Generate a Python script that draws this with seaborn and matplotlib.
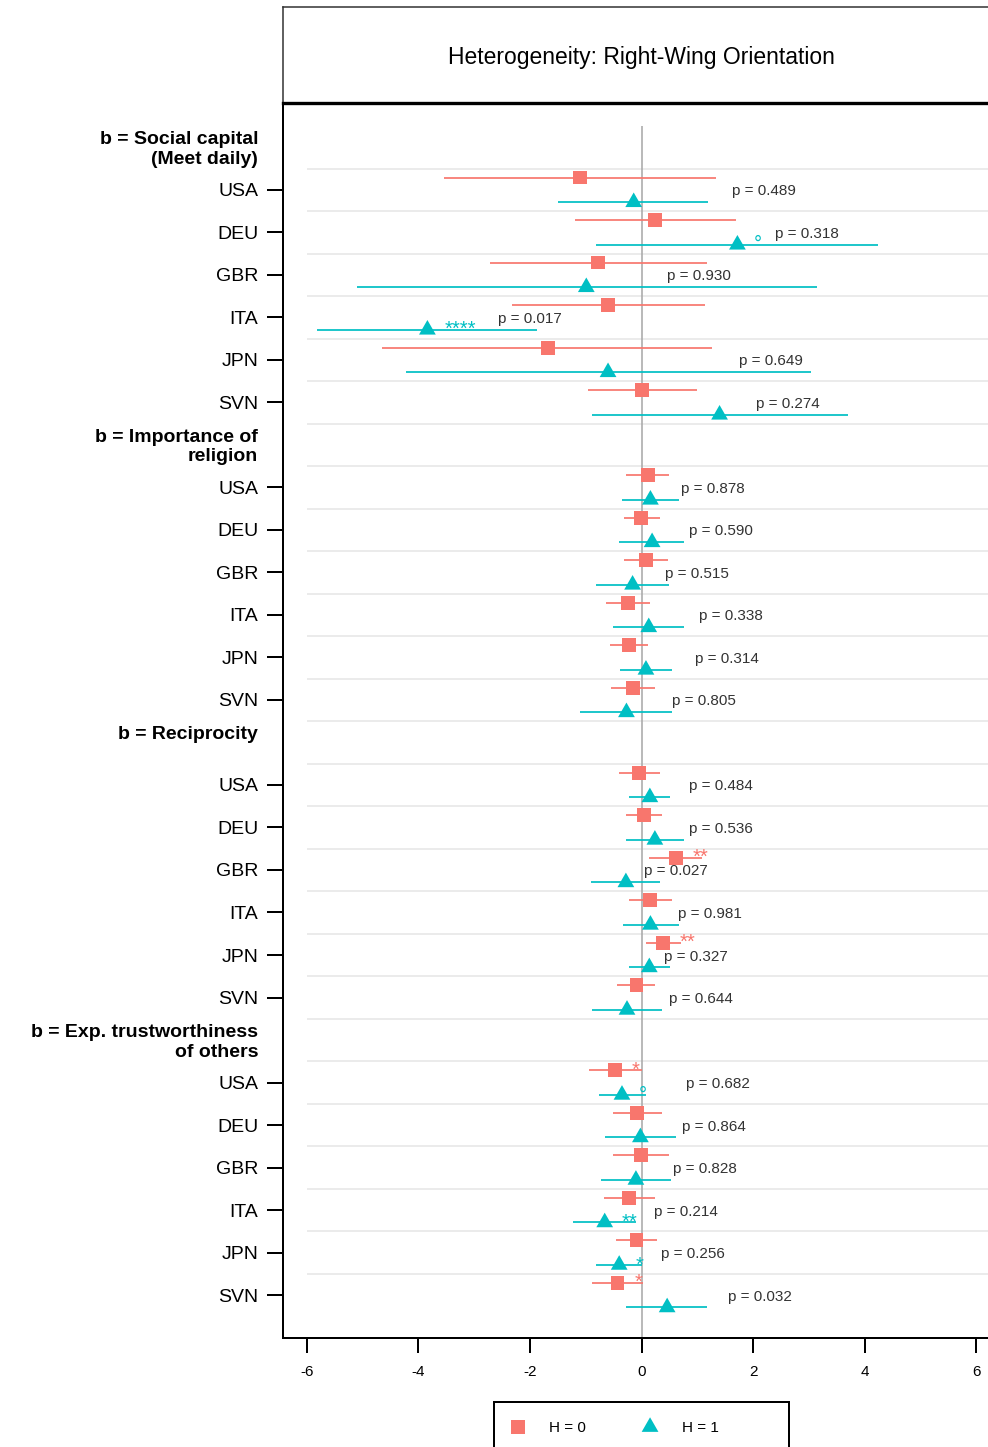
import numpy as np
import pandas as pd
import matplotlib
matplotlib.use("Agg")
import matplotlib.pyplot as plt
import matplotlib.transforms as mtransforms
from matplotlib.markers import MarkerStyle
from matplotlib.path import Path
import seaborn as sns

sns.set_style("white")
plt.rcParams["font.family"] = ["Liberation Sans", "DejaVu Sans"]

# ---------------------------------------------------------------- data
title = "Heterogeneity: Right-Wing Orientation"
groups = [
    "b = Social capital\n(Meet daily)",
    "b = Importance of\nreligion",
    "b = Reciprocity\n",
    "b = Exp. trustworthiness\nof others",
]
countries = ["USA", "DEU", "GBR", "ITA", "JPN", "SVN"]
x_ticks = [-6, -4, -2, 0, 2, 4, 6]
x_tick_labels = ["-6", "-4", "-2", "0", "2", "4", "6"]
h_levels = ["H = 0", "H = 1"]

# estimates and interval bounds, one list per group (country order as above)
h0_est = [[-1.10, 0.24, -0.78, -0.60, -1.68, 0.01],
          [0.12, -0.01, 0.08, -0.25, -0.22, -0.15],
          [-0.05, 0.05, 0.62, 0.16, 0.39, -0.09],
          [-0.48, -0.08, -0.01, -0.22, -0.09, -0.43]]
h0_lo = [[-3.54, -1.20, -2.72, -2.33, -4.65, -0.96],
         [-0.27, -0.32, -0.31, -0.64, -0.56, -0.55],
         [-0.41, -0.27, 0.14, -0.23, 0.08, -0.44],
         [-0.95, -0.52, -0.52, -0.67, -0.46, -0.89]]
h0_hi = [[1.33, 1.69, 1.17, 1.13, 1.27, 1.00],
         [0.50, 0.33, 0.48, 0.15, 0.12, 0.24],
         [0.34, 0.37, 1.09, 0.54, 0.70, 0.25],
         [0.00, 0.37, 0.49, 0.24, 0.27, 0.03]]
h1_est = [[-0.14, 1.72, -0.99, -3.84, -0.60, 1.40],
          [0.16, 0.19, -0.16, 0.13, 0.08, -0.27],
          [0.15, 0.24, -0.28, 0.16, 0.14, -0.26],
          [-0.35, -0.02, -0.10, -0.66, -0.40, 0.46]]
h1_lo = [[-1.49, -0.81, -5.10, -5.82, -4.23, -0.89],
         [-0.35, -0.40, -0.82, -0.52, -0.39, -1.10],
         [-0.23, -0.28, -0.90, -0.33, -0.23, -0.89],
         [-0.77, -0.65, -0.73, -1.23, -0.81, -0.27]]
h1_hi = [[1.20, 4.25, 3.14, -1.87, 3.04, 3.70],
         [0.68, 0.77, 0.50, 0.76, 0.55, 0.55],
         [0.51, 0.76, 0.33, 0.67, 0.51, 0.36],
         [0.08, 0.61, 0.53, -0.09, 0.01, 1.18]]

# significance codes of the single estimates
h0_sig = [["", "", "", "", "", ""],
          ["", "", "", "", "", ""],
          ["", "", "**", "", "**", ""],
          ["*", "", "", "", "", "*"]]
h1_sig = [["", "°", "", "****", "", ""],
          ["", "", "", "", "", ""],
          ["", "", "", "", "", ""],
          ["°", "", "", "**", "*", ""]]

# p-values of the H = 1 vs H = 0 difference
p_values = [["0.489", "0.318", "0.930", "0.017", "0.649", "0.274"],
            ["0.878", "0.590", "0.515", "0.338", "0.314", "0.805"],
            ["0.484", "0.536", "0.027", "0.981", "0.327", "0.644"],
            ["0.682", "0.864", "0.828", "0.214", "0.256", "0.032"]]

# ---------------------------------------------------------------- layout
RED, TEAL = "#F8766D", "#00BFC4"
palette = {h_levels[0]: RED, h_levels[1]: TEAL}
n_group_rows = len(countries) + 1
n_rows = len(groups) * n_group_rows
dodge = 0.29
label_gap = 0.66          # p-label starts this far right of the difference
sig_gap = 0.30            # significance code starts right of its estimate
label_nudge = {(0, 1): 0.26, (2, 2): 0.28}   # labels pushed off overlapping marks

records = []
for g in range(len(groups)):
    for c, cty in enumerate(countries):
        row = g * n_group_rows + 1 + c
        for h, (est, lo, hi, sig) in enumerate([
                (h0_est, h0_lo, h0_hi, h0_sig), (h1_est, h1_lo, h1_hi, h1_sig)]):
            records.append(dict(group=g, country=cty, row=row, H=h_levels[h],
                                est=est[g][c], lo=lo[g][c], hi=hi[g][c],
                                sig=sig[g][c]))
df = pd.DataFrame(records)
df["y"] = df["row"] + np.where(df["H"] == h_levels[0], -dodge, dodge)

W, H = 988, 1447
fig = plt.figure(figsize=(W / 100, H / 100), dpi=100)

# main panel
ax = fig.add_axes([283 / W, (H - 1338) / H, 717 / W, (1338 - 104) / H])
xmax = 6.43

ax.hlines(np.arange(0.5, n_rows - 1, 1.0), -6, xmax, color="#EBEBEB",
          lw=1.4, zorder=0)
ax.vlines(0, -0.5, n_rows + 0.01, color="#A6A6A6", lw=1.1, zorder=1)
ax.hlines(df["y"], df["lo"], df["hi"], colors=df["H"].map(palette),
          lw=1.25, zorder=2)

tri = Path([(0, 1.16), (-1, -0.58), (1, -0.58), (0, 1.16)],
           [Path.MOVETO, Path.LINETO, Path.LINETO, Path.CLOSEPOLY])
sns.scatterplot(data=df, x="est", y="y", hue="H", style="H", size="H",
                palette=palette,
                markers={h_levels[0]: "s", h_levels[1]: MarkerStyle(tri)},
                sizes={h_levels[0]: 100, h_levels[1]: 196},
                linewidth=0, edgecolor="none", legend=False, zorder=3, ax=ax)

# significance codes
for _, r in df[df["sig"] != ""].iterrows():
    ax.text(r["est"] + sig_gap, r["y"], r["sig"], color=palette[r["H"]],
            fontsize=14.5, ha="left", va="center", zorder=4)

# p-value labels
for g in range(len(groups)):
    for c in range(len(countries)):
        row = g * n_group_rows + 1 + c
        x = h1_est[g][c] - h0_est[g][c] + label_gap + label_nudge.get((g, c), 0)
        ax.text(x, row, f"p = {p_values[g][c]}", fontsize=11, color="#333333",
                ha="left", va="center_baseline", zorder=4)

ax.set_xlim(-xmax, xmax)
ax.set_ylim(n_rows + 0.01, -1.02)
ax.set(xlabel="", ylabel="")
ax.set_xticks(x_ticks, labels=x_tick_labels)
country_rows = [g * n_group_rows + 1 + c for g in range(len(groups))
                for c in range(len(countries))]
ax.set_yticks(country_rows, labels=countries * len(groups))
ax.tick_params(axis="y", length=11.5, width=1.44, pad=6.3, labelsize=14,
               colors="black", left=True)
ax.tick_params(axis="x", length=10.8, width=1.44, pad=9, labelsize=11,
               colors="black", bottom=True)
for side in ("top", "right"):
    ax.spines[side].set_visible(False)
for side in ("left", "bottom"):
    ax.spines[side].set_color("black")
    ax.spines[side].set_linewidth(1.44)
ax.grid(False)

# group headings on the y axis
ytrans = mtransforms.blended_transform_factory(ax.transAxes, ax.transData)
for g, name in enumerate(groups):
    ax.text(-0.0345, g * n_group_rows + 0.05, name, transform=ytrans,
            ha="right", va="center", fontsize=14, fontweight="bold",
            linespacing=1.22, color="black")

# strip with the title
sax = fig.add_axes([283 / W, (H - 103) / H, 717 / W, 96 / H])
sax.set_xticks([])
sax.set_yticks([])
sax.spines["right"].set_visible(False)
for side in ("top", "left"):
    sax.spines[side].set_color("#333333")
    sax.spines[side].set_linewidth(1.1)
sax.spines["bottom"].set_color("black")
sax.spines["bottom"].set_linewidth(2.4)
sax.text(0.5, 0.5, title, transform=sax.transAxes, ha="center",
         va="center_baseline", fontsize=16.5, color="black")

# legend box
lax = fig.add_axes([494 / W, -5 / H, 295 / W, 50 / H])
lax.set_xlim(0, 1)
lax.set_ylim(0, 1)
lax.set_xticks([])
lax.set_yticks([])
for side in lax.spines:
    lax.spines[side].set_color("black")
    lax.spines[side].set_linewidth(1.44)
leg_df = pd.DataFrame({"x": [0.081, 0.529], "y": [0.5, 0.5], "H": h_levels})
sns.scatterplot(data=leg_df, x="x", y="y", hue="H", style="H", size="H",
                palette=palette,
                markers={h_levels[0]: "s", h_levels[1]: MarkerStyle(tri)},
                sizes={h_levels[0]: 100, h_levels[1]: 196},
                linewidth=0, edgecolor="none", legend=False, ax=lax)
lax.set(xlabel="", ylabel="")
for xt, lab in zip([0.188, 0.637], h_levels):
    lax.text(xt, 0.5, lab, ha="left", va="center_baseline", fontsize=11,
             color="black")

fig.savefig("out.png", dpi=100)
